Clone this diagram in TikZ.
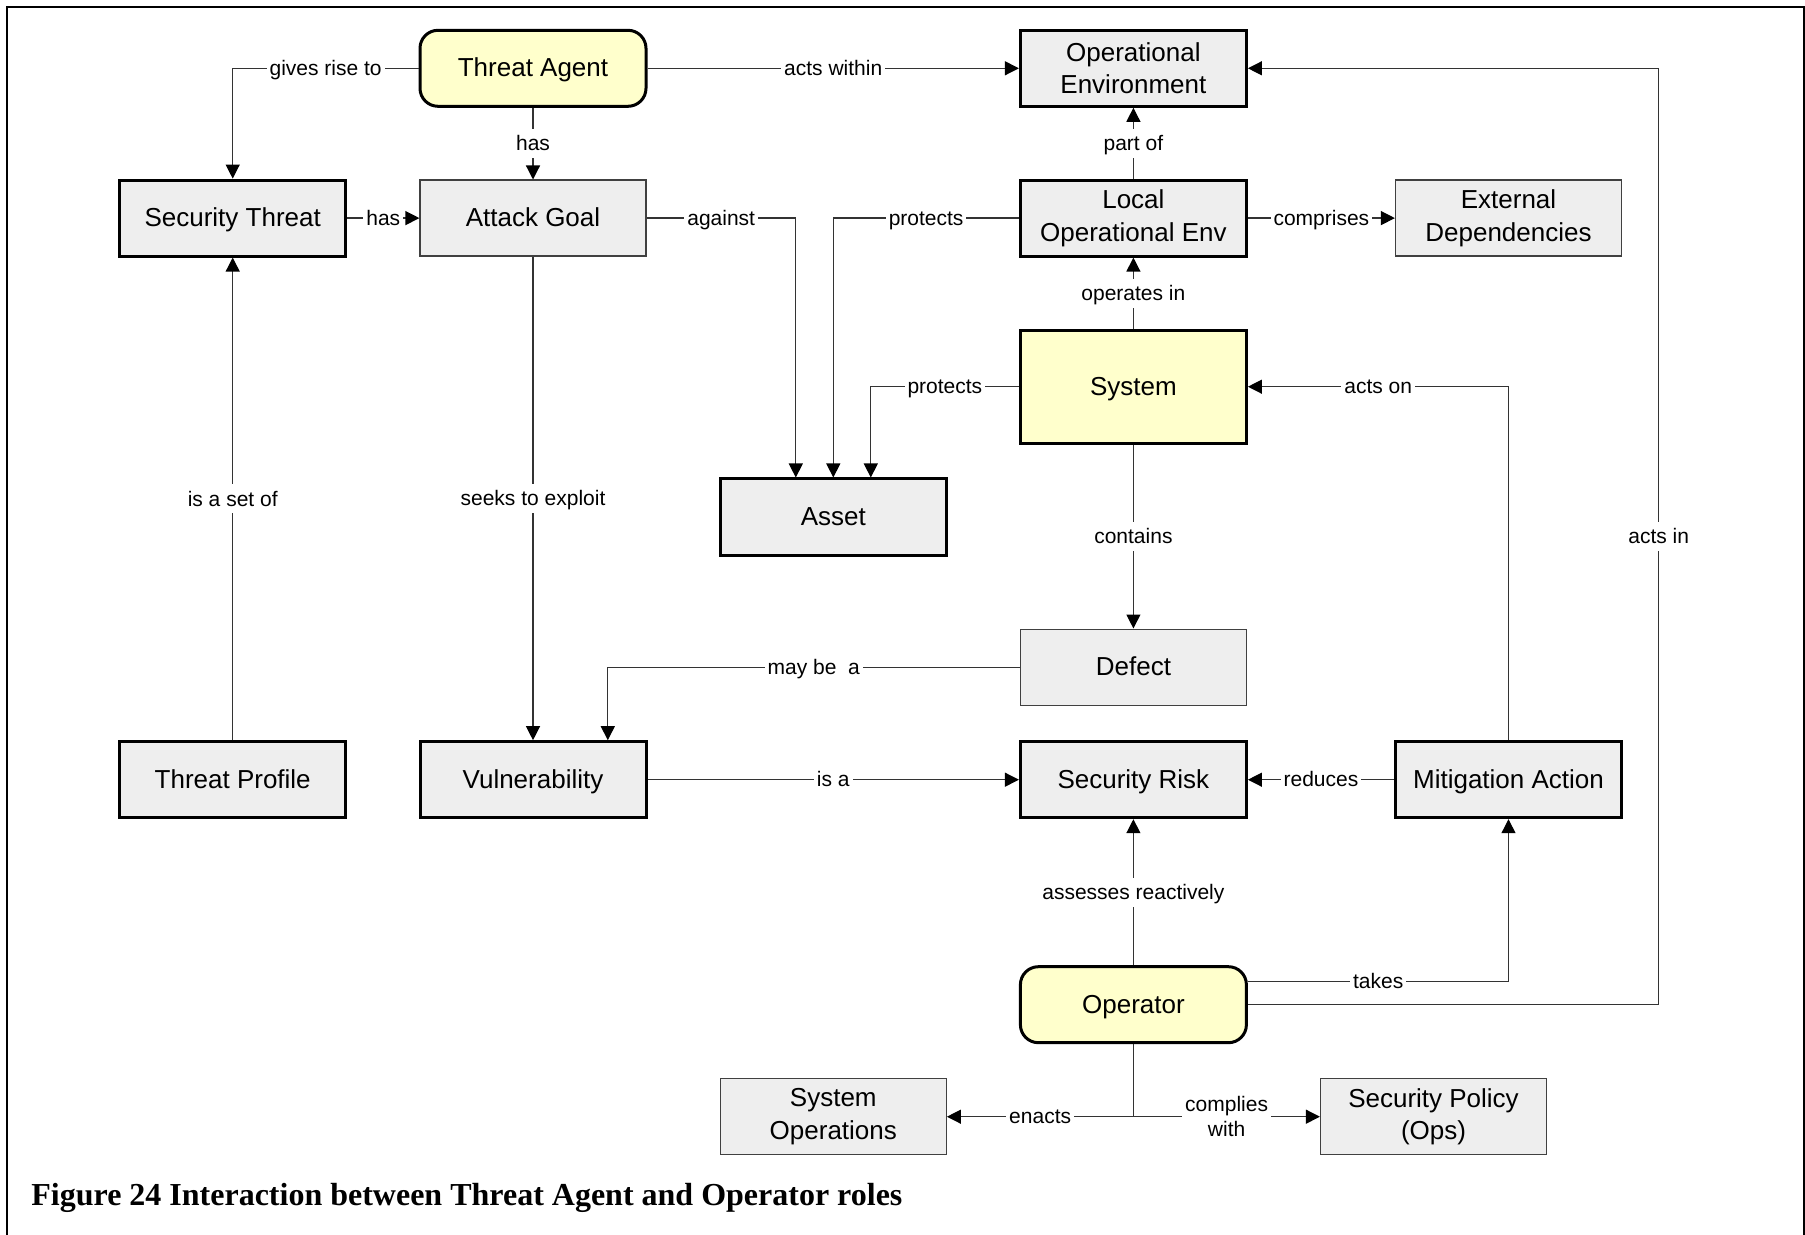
\documentclass[tikz,border=0pt]{standalone}
\usepackage{fontspec}
\setmainfont{Liberation Sans}
\newfontfamily\capfont{Liberation Serif}
\usetikzlibrary{arrows.meta,calc}
\definecolor{boxgray}{HTML}{EEEEEE}
\definecolor{boxyel}{HTML}{FFFFCC}
\begin{document}
\begin{tikzpicture}[x=0.5pt,y=-0.5pt,
  base/.style={rectangle, minimum width=113pt, minimum height=38pt, inner sep=0pt, align=center, font=\fontsize{13}{16.3}\selectfont},
  one/.style={text height=11.2pt, text depth=2.8pt},
  thickbox/.style={base, draw=black, line width=1.5pt, fill=boxgray},
  thinbox/.style={base, draw=black!75, line width=0.6pt, fill=boxgray},
  yelbox/.style={base, draw=black, line width=1.5pt, fill=boxyel},
  roundbox/.style={yelbox, rounded corners=9pt},
  conn/.style={draw=black!80, line width=0.6pt},
  arr/.style={conn, -{Triangle[length=7pt,width=7pt,color=black]}},
  lbl2/.style={fill=white, inner sep=1.5pt, font=\fontsize{10.5}{12.7}\selectfont, align=center, text=black},
  lbl/.style={lbl2, text height=9.4pt, text depth=2.2pt},
]
\useasboundingbox (0,0) rectangle (1805,1235);
\draw[line width=1pt] (7,1236) -- (7,7) -- (1803.5,7) -- (1803.5,1236);

\node[roundbox,one] (TA) at (533,68.3) {Threat Agent};
\node[thickbox] (OE) at (1133.4,68.3) {Operational\\Environment};
\node[thickbox,one] (ST) at (232.7,218.1) {Security Threat};
\node[thinbox,one] (AG) at (533,218.1) {Attack Goal};
\node[thickbox] (LOE) at (1133.4,218.1) {Local\\Operational Env};
\node[thinbox] (ED) at (1508.5,218.1) {External\\Dependencies};
\node[yelbox,one, minimum height=56.5pt] (SYS) at (1133.4,386.7) {System};
\node[thickbox,one] (AS) at (833.3,517) {Asset};
\node[thinbox,one] (DEF) at (1133.4,667.1) {Defect};
\node[thickbox,one] (TP) at (232.7,779.7) {Threat Profile};
\node[thickbox,one] (VUL) at (533,779.7) {Vulnerability};
\node[thickbox,one] (SR) at (1133.4,779.7) {Security Risk};
\node[thickbox,one] (MA) at (1508.5,779.7) {Mitigation Action};
\node[roundbox,one] (OP) at (1133.4,1004.7) {Operator};
\node[thinbox] (SO) at (833.3,1116.7) {System\\Operations};
\node[thinbox] (SP) at (1433.5,1116.7) {Security Policy\\(Ops)};

\node[anchor=base west, inner sep=0pt, font=\capfont\bfseries\fontsize{16}{19}\selectfont] (cap) at (31,1205) {Figure 24 Interaction between Threat Agent and Operator roles};

\draw[arr] (TA.west) -| (ST.north) node[lbl,pos=0.25]{gives rise to};
\draw[arr] (TA.south) -- (AG.north) node[lbl,midway]{has};
\draw[arr] (TA.east) -- (OE.west) node[lbl,midway]{acts within};
\draw[arr] (ST.east) -- (AG.west) node[lbl,midway]{has};
\draw[arr] (AG.east) -| ([xshift=-18.75pt]AS.north) node[lbl,pos=0.25]{against};
\draw[arr] (LOE.west) -| (AS.north) node[lbl,pos=0.25]{protects};
\draw[arr] (SYS.west) -| ([xshift=18.75pt]AS.north) node[lbl,pos=0.25]{protects};
\draw[arr] (LOE.north) -- (OE.south) node[lbl,midway]{part of};
\draw[arr] (LOE.east) -- (ED.west) node[lbl,midway]{comprises};
\draw[arr] (SYS.north) -- (LOE.south) node[lbl,midway]{operates in};
\draw[arr] (MA.north) |- (SYS.east) node[lbl,pos=0.75]{acts on};
\draw[arr] (SYS.south) -- (DEF.north) node[lbl,midway]{contains};
\draw[arr] (DEF.west) -| ([xshift=37.4pt]VUL.north) node[lbl,pos=0.25]{may be\ \ a};
\draw[arr] (AG.south) -- (VUL.north) node[lbl,midway]{seeks to exploit};
\draw[arr] (TP.north) -- (ST.south) node[lbl,midway]{is a set of};
\draw[arr] (VUL.east) -- (SR.west) node[lbl,midway]{is a};
\draw[arr] (MA.west) -- (SR.east) node[lbl,midway]{reduces};
\draw[arr] (OP.north) -- (SR.south) node[lbl,midway]{assesses reactively};
\draw[arr] ([yshift=11.5pt]OP.east) -| (MA.south) node[lbl,pos=0.25]{takes};
\coordinate (AIX) at (1658.7,536);
\draw[arr] (OP.east) -- (OP.east -| AIX) -- (OE.east -| AIX) node[lbl,midway]{acts in} -- (OE.east);
\coordinate (J) at (OP.south |- SO.east);
\draw[conn] (OP.south) -- (J);
\draw[arr] (J) -- (SO.east) node[lbl,midway]{enacts};
\draw[arr] (J) -- (SP.west) node[lbl2,midway]{complies\\with};
\end{tikzpicture}
\end{document}
